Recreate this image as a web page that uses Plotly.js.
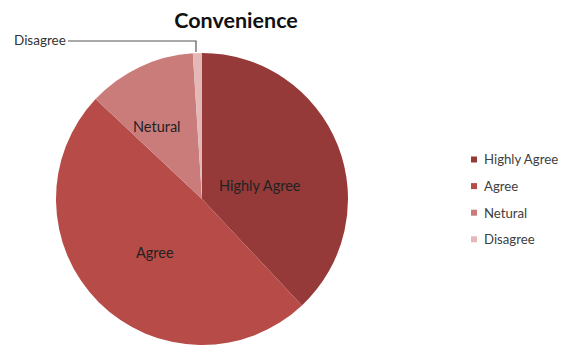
<!DOCTYPE html>
<html>
<head>
<meta charset="utf-8">
<script src="https://cdn.plot.ly/plotly-3.0.1.min.js"></script>
<style>html,body{margin:0;padding:0;background:#fff;}#chart{width:571px;height:345px;}</style>
</head>
<body>
<div id="chart"></div>
<script>
const categories = ["Highly Agree", "Agree", "Netural", "Disagree"];
const values = [38, 49, 12, 1];
const colors = ["#953a38", "#b64b48", "#ca7c7b", "#e3b8b7"];

const W = 571, H = 345;
const px = x => x / W;
const py = y => 1 - y / H;

// pie geometry (pixels)
const cx = 202, cy = 199, r = 146;

const trace = {
  type: "pie",
  labels: categories,
  values: values,
  sort: false,
  direction: "clockwise",
  rotation: 0,
  marker: {colors: colors, line: {width: 0}},
  textinfo: "none",
  hoverinfo: "label+value",
  showlegend: false,
  domain: {x: [px(cx - r), px(cx + r)], y: [py(cy + r), py(cy - r)]}
};

const annotations = [];
const shapes = [];
const fontFam = "Lato, 'Open Sans', sans-serif";

// inside labels
const insidePos = {"Highly Agree": [260, 185], "Agree": [155, 253], "Netural": [157, 127]};
categories.forEach(c => {
  if (insidePos[c]) {
    annotations.push({xref: "paper", yref: "paper", x: px(insidePos[c][0]), y: py(insidePos[c][1]),
      text: c, showarrow: false, xanchor: "center", yanchor: "middle",
      font: {family: fontFam, size: 14.5, color: "#222"}});
  }
});
// outside label for Disagree with leader line
annotations.push({xref: "paper", yref: "paper", x: px(12), y: py(40), text: categories[3],
  showarrow: false, xanchor: "left", yanchor: "middle",
  font: {family: fontFam, size: 13.5, color: "#333"}});
shapes.push({type: "path", xref: "paper", yref: "paper",
  path: `M ${px(68)} ${py(41)} L ${px(196)} ${py(41)} L ${px(196)} ${py(52)}`,
  line: {color: "#555", width: 1.2}});

// legend
const legX = 471, legY0 = 159.5, legStep = 26.6, sq = 6;
categories.forEach((c, i) => {
  const y = legY0 + i * legStep;
  shapes.push({type: "rect", xref: "paper", yref: "paper",
    x0: px(legX), x1: px(legX + sq), y0: py(y + sq / 2), y1: py(y - sq / 2),
    fillcolor: colors[i], line: {width: 0}});
  annotations.push({xref: "paper", yref: "paper", x: px(482), y: py(y), text: c,
    showarrow: false, xanchor: "left", yanchor: "middle",
    font: {family: fontFam, size: 13.2, color: "#404040"}});
});

const layout = {
  width: W, height: H,
  margin: {l: 0, r: 0, t: 0, b: 0},
  paper_bgcolor: "#fff",
  title: {text: "<b>Convenience</b>", x: px(236), xanchor: "center", y: py(20), yanchor: "middle",
    font: {family: fontFam, size: 21.5, color: "#111"}},
  showlegend: false,
  annotations: annotations,
  shapes: shapes
};

Plotly.newPlot("chart", [trace], layout, {displayModeBar: false, staticPlot: true});
</script>
</body>
</html>
